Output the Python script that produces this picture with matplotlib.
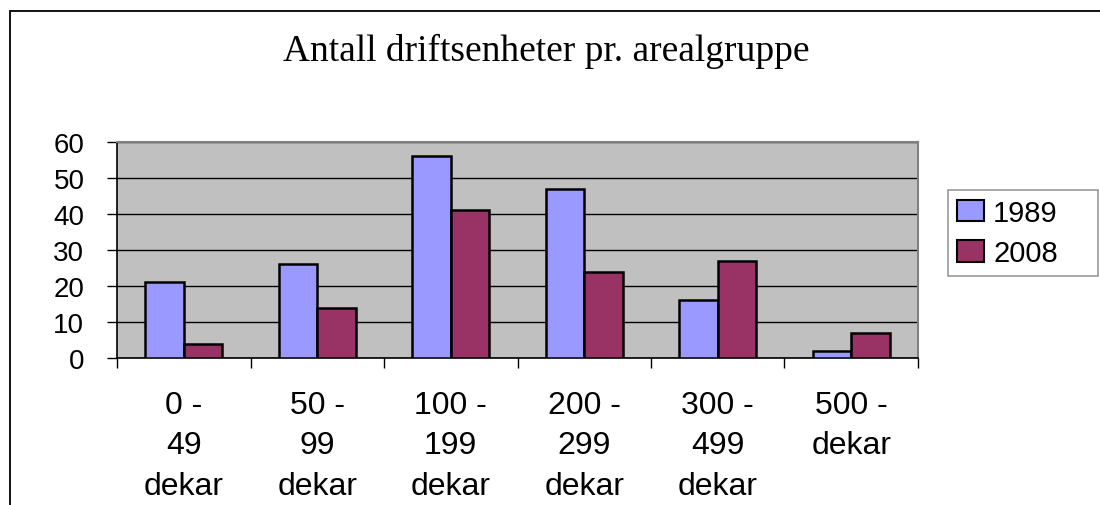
import matplotlib
matplotlib.use("Agg")
import matplotlib.pyplot as plt
from matplotlib.patches import Rectangle
import numpy as np

categories = ["0 -\n49\ndekar", "50 -\n99\ndekar", "100 -\n199\ndekar",
              "200 -\n299\ndekar", "300 -\n499\ndekar", "500 -\ndekar"]
values_1989 = [21, 26, 56, 47, 16, 2]
values_2008 = [4, 14, 41, 24, 27, 7]
series_names = ["1989", "2008"]
title = "Antall driftsenheter pr. arealgruppe"
yticks = [0, 10, 20, 30, 40, 50, 60]

W, H = 1100, 506
fig = plt.figure(figsize=(W / 100, H / 100), dpi=100)
fig.patch.set_facecolor("white")

ax = fig.add_axes([117 / W, 1 - 359 / H, 801 / W, 216 / H])
ax.set_facecolor("#C0C0C0")

x = np.arange(len(categories))
bw = 0.29
ax.bar(x - bw, values_1989, width=bw, align="edge", color="#9999FF",
       edgecolor="black", linewidth=1.8, label=series_names[0], zorder=3)
ax.bar(x, values_2008, width=bw, align="edge", color="#993366",
       edgecolor="black", linewidth=1.8, label=series_names[1], zorder=3)

ax.set_xlim(-0.5, len(categories) - 0.5)
ax.set_ylim(0, 60)
ax.set_yticks(yticks)
ax.set_yticklabels([str(v) for v in yticks], fontsize=20, family="Liberation Sans")
ax.yaxis.grid(True, color="black", linewidth=1.0, zorder=1)
ax.set_axisbelow(True)

ax.set_xticks(np.arange(-0.5, len(categories), 1.0))
ax.set_xticklabels([])
ax.set_xticks(x, minor=True)
ax.set_xticklabels(categories, minor=True, fontsize=23, family="Liberation Sans",
                   linespacing=1.45, multialignment="center")
ax.tick_params(axis="x", which="major", direction="out", length=7.5, width=1, color="black")
ax.tick_params(axis="x", which="minor", length=0, pad=23)
ax.tick_params(axis="y", direction="out", length=7.5, width=1, color="black", pad=16)

for s in ["top", "right"]:
    ax.spines[s].set_color("#808080")
    ax.spines[s].set_linewidth(1.5)
for s in ["left", "bottom"]:
    ax.spines[s].set_color("black")
    ax.spines[s].set_linewidth(1.2)

leg = ax.legend(loc="upper left", bbox_to_anchor=(948 / W, 1 - 281 / H, 150 / W, 90 / H),
                mode="expand",
                bbox_transform=fig.transFigure, prop={"family": "Liberation Sans", "size": 21},
                frameon=True, fancybox=False, edgecolor="#808080", borderaxespad=0,
                handlelength=0.95, handleheight=0.75, handletextpad=0.3,
                borderpad=0.3, labelspacing=0.42)
leg.get_frame().set_linewidth(1.2)
for p in leg.get_patches():
    p.set_linewidth(1.5)

fig.text(0.497, 1 - 51 / H, title, ha="center", va="center",
         fontsize=27, family="Liberation Serif")

fig.add_artist(Rectangle((10 / W, -0.2), 1.2, 1 - 12 / H + 0.2,
                         transform=fig.transFigure, fill=False,
                         edgecolor="black", linewidth=1.3, clip_on=False))

fig.savefig("out.png", dpi=100)
